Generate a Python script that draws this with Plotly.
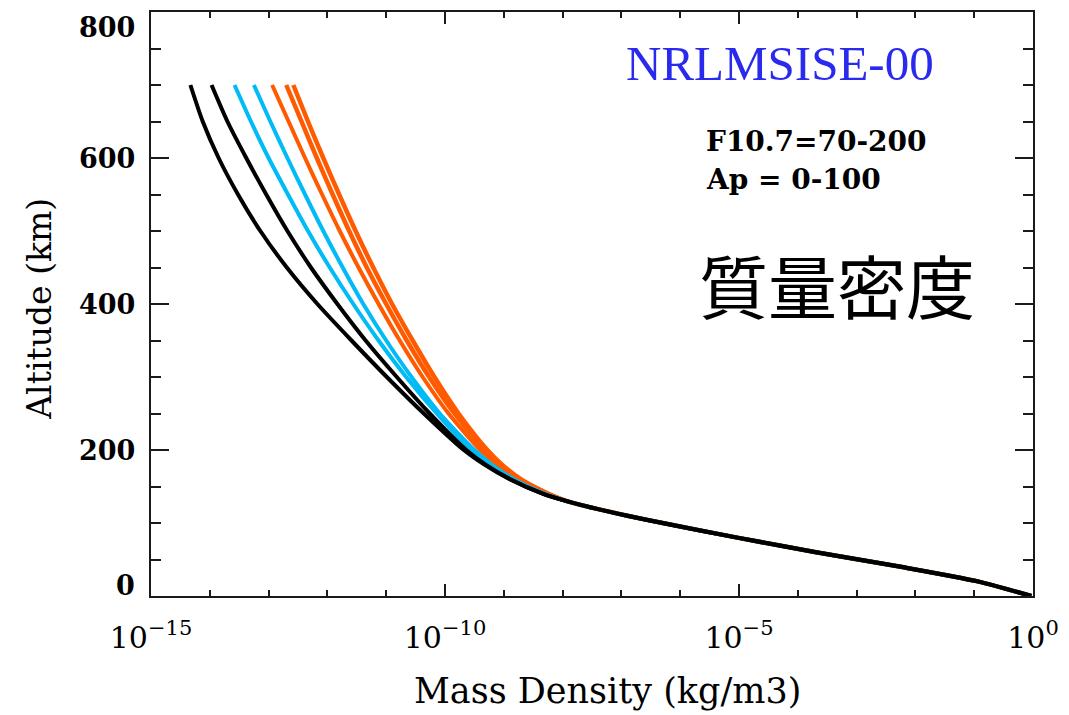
import plotly.graph_objects as go

# Altitudes (km) where all profiles coincide, and their log10 mass density (kg/m3)
lower_alt_km = [0, 20, 40, 60, 80, 100, 110, 120, 130]
lower_log = [-0.03, -0.94, -2.25, -3.69, -5.03, -6.30, -6.90, -7.45, -7.93]

# Altitudes (km) above which the solar / geomagnetic cases separate
upper_alt_km = [140, 160, 180, 200, 250, 300, 350, 400, 450, 500, 550, 600, 650, 700]

black_a_log = [-8.33, -8.90, -9.33, -9.68, -10.36, -10.99, -11.59,
               -12.17, -12.69, -13.14, -13.52, -13.85, -14.12, -14.33]
black_b_log = [-8.33, -8.89, -9.31, -9.64, -10.26, -10.82, -11.35,
               -11.83, -12.28, -12.68, -13.04, -13.38, -13.70, -13.97]
cyan_a_log = [-8.31, -8.85, -9.25, -9.56, -10.14, -10.66, -11.13,
              -11.56, -11.96, -12.33, -12.67, -13.00, -13.30, -13.58]
cyan_b_log = [-8.30, -8.83, -9.21, -9.50, -10.09, -10.57, -11.00,
              -11.39, -11.74, -12.07, -12.38, -12.68, -12.97, -13.25]
orange_a_log = [-8.27, -8.77, -9.12, -9.40, -9.94, -10.38, -10.77,
                -11.13, -11.47, -11.79, -12.09, -12.38, -12.66, -12.94]
orange_b_log = [-8.25, -8.73, -9.06, -9.32, -9.84, -10.27, -10.65,
                -11.00, -11.33, -11.63, -11.91, -12.18, -12.44, -12.70]
orange_c_log = [-8.24, -8.71, -9.03, -9.28, -9.77, -10.18, -10.55,
                -10.90, -11.22, -11.52, -11.80, -12.07, -12.33, -12.58]

# Axis ticks
x_major_vals = [1e-15, 1e-10, 1e-5, 1e0]
x_major_text = ["10<sup>−15</sup>", "10<sup>−10</sup>", "10<sup>−5</sup>", "10<sup>0</sup>"]
x_minor_vals = [10.0 ** k for k in range(-14, 0)]
y_major_vals = [0, 200, 400, 600, 800]
y_major_text = ["0", "200", "400", "600", "800"]

ORANGE = "#FF5A00"
CYAN = "#00BBF5"
BLACK = "#000000"
AXIS = "#1a1a1a"
SERIF = "DejaVu Serif, Liberation Serif, serif"
THIN_SERIF = "Liberation Serif, DejaVu Serif, serif"

profiles = [
    (orange_a_log, ORANGE, 4),
    (orange_b_log, ORANGE, 4.5),
    (orange_c_log, ORANGE, 4.5),
    (cyan_a_log, CYAN, 4),
    (cyan_b_log, CYAN, 4),
    (black_a_log, BLACK, 4),
    (black_b_log, BLACK, 4),
]

alt_km = lower_alt_km + upper_alt_km

fig = go.Figure()
for upper_log, color, width in profiles:
    logs = lower_log + upper_log
    fig.add_trace(go.Scatter(
        x=[10.0 ** v for v in logs], y=alt_km, mode="lines",
        line=dict(color=color, width=width, shape="spline", smoothing=0.7),
        hoverinfo="skip", showlegend=False,
    ))

fig.update_layout(
    width=1069, height=715,
    margin=dict(l=150.5, r=30, t=10, b=118.5),
    plot_bgcolor="white", paper_bgcolor="white",
    showlegend=False,
)

fig.update_xaxes(
    type="log", range=[-15, 0],
    tickmode="array", tickvals=x_major_vals, ticktext=x_major_text,
    ticks="inside", ticklen=12, tickwidth=2, tickcolor=AXIS,
    minor=dict(tickmode="array", tickvals=x_minor_vals, ticks="inside",
               ticklen=6, tickwidth=2, tickcolor=AXIS),
    showline=True, linewidth=2, linecolor=AXIS, mirror="allticks",
    showgrid=False, zeroline=False,
    tickfont=dict(family=SERIF, size=30, color="black"),
    ticklabelstandoff=14,
)

fig.update_yaxes(
    range=[0, 800],
    tickmode="array", tickvals=y_major_vals, showticklabels=False,
    ticks="inside", ticklen=18, tickwidth=2, tickcolor=AXIS,
    minor=dict(dtick=50, ticks="inside", ticklen=10, tickwidth=2, tickcolor=AXIS),
    showline=True, linewidth=2, linecolor=AXIS, mirror="allticks",
    showgrid=False, zeroline=False,
)

# Y tick labels, the end labels kept inside the frame height
for val, txt in zip(y_major_vals, y_major_text):
    shift = 0
    if val == y_major_vals[-1]:
        shift = -15
    elif val == y_major_vals[0]:
        shift = 11
    fig.add_annotation(
        x=0, xref="paper", y=val, yref="y", text=txt, showarrow=False,
        xanchor="right", yanchor="middle", xshift=-14, yshift=shift,
        font=dict(family=SERIF, size=27, color="black", weight="bold"),
    )

# Axis titles
fig.add_annotation(
    x=-0.1266, xref="paper", y=0.4925, yref="paper", text="Altitude (km)",
    showarrow=False, textangle=-90, xanchor="center", yanchor="middle",
    font=dict(family=SERIF, size=33, color="black"),
)
fig.add_annotation(
    x=0.5173, xref="paper", y=-0.163, yref="paper", text="Mass Density (kg/m3)",
    showarrow=False, xanchor="center", yanchor="middle",
    font=dict(family=SERIF, size=35, color="black"),
)

# Model name and parameter ranges
fig.add_annotation(
    x=0.7135, xref="paper", y=0.911, yref="paper", text="NRLMSISE-00",
    showarrow=False, xanchor="center", yanchor="middle",
    font=dict(family=THIN_SERIF, size=49, color="#2A2AEE"),
)
fig.add_annotation(
    x=0.6275, xref="paper", y=0.778, yref="paper", text="F10.7=70-200",
    showarrow=False, xanchor="left", yanchor="middle",
    font=dict(family=SERIF, size=28, color="black", weight="bold"),
)
fig.add_annotation(
    x=0.6275, xref="paper", y=0.714, yref="paper", text="Ap = 0-100",
    showarrow=False, xanchor="left", yanchor="middle",
    font=dict(family=SERIF, size=28, color="black", weight="bold"),
)
fig.add_annotation(
    x=0.6185, xref="paper", y=0.5345, yref="paper", text="質量密度",
    showarrow=False, xanchor="left", yanchor="middle",
    font=dict(family="Noto Sans CJK JP", size=69, color="black"),
)

fig.write_html("out.html")
